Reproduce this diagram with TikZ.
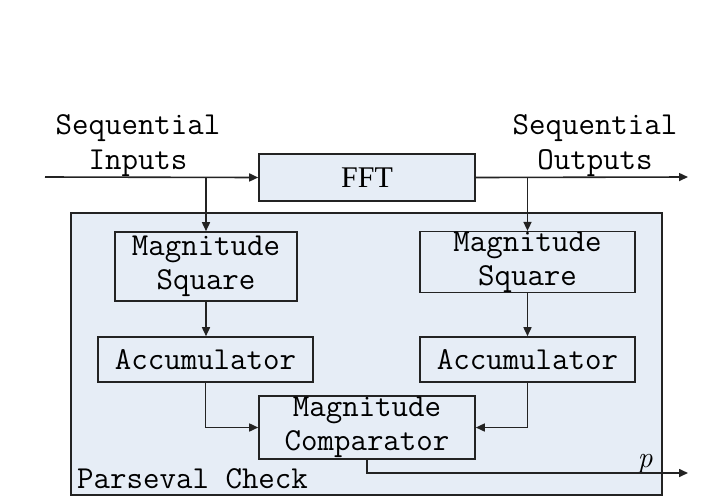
\documentclass[tikz,border=0pt]{standalone}
\usepackage{fontspec}
\usepackage{xcolor}
\usepackage{tikz}
\usetikzlibrary{arrows.meta}

\newfontfamily\fftfont{Liberation Serif}
\definecolor{boxfill}{RGB}{230,237,246}
\definecolor{linegray}{RGB}{35,35,35}

\begin{document}
\begin{tikzpicture}[x=1pt,y=-1pt,
    blk/.style={draw=linegray,line width=1.6pt,fill=boxfill,inner sep=0pt,align=center,
        font={\ttfamily\fontsize{32}{34}\selectfont}},
    lbl/.style={inner sep=0pt,align=center,font={\ttfamily\fontsize{32}{35}\selectfont}},
    arr/.style={draw=linegray,line width=1.6pt,-{Triangle[length=9pt,width=8pt]}}]
\useasboundingbox (0,0) rectangle (717,496);

% Parseval check region
\node[blk,minimum width=591,minimum height=282] (pc) at (366.5,354) {};
\node[lbl,anchor=base west] (pclabel) at (77,488) {Parseval Check};

% FFT and the blocks inside the check
\node[blk,minimum width=216,minimum height=47,font={\fftfont\fontsize{30}{32}\selectfont}] (fft) at (367,177.5) {FFT};
\node[blk,minimum width=182,minimum height=69] (msl) at (206,266.5) {Magnitude\\Square};
\node[blk,minimum width=215,minimum height=60] (msr) at (527.5,262) {Magnitude\\Square};
\node[blk,minimum width=215,minimum height=45] (accl) at (205.5,359.5) {Accumulator};
\node[blk,minimum width=215,minimum height=45] (accr) at (527.5,359.5) {Accumulator};
\node[blk,minimum width=216,minimum height=63] (cmp) at (367,427.5) {Magnitude\\Comparator};

% Inputs and outputs
\coordinate (in) at (45,177);
\coordinate (out) at (688,177);
\coordinate (pout) at (688,473);
\node[lbl,anchor=south] (inlabel) at (138,177) {Sequential\\Inputs};
\node[lbl,anchor=south] (outlabel) at (595,177) {Sequential\\Outputs};
\node[inner sep=0pt,anchor=base,font={\rmfamily\itshape\fontsize{30}{32}\selectfont}] (plabel) at (645,467) {p};

% Connectors
\draw[arr] (in) -- (fft.west);
\draw[arr] (fft.east) -- (out);
\draw[arr] (msl.north |- fft.west) -- (msl.north);
\draw[arr] (msr.north |- fft.east) -- (msr.north);
\draw[arr] (msl.south) -- (msl.south |- accl.north);
\draw[arr] (msr.south) -- (accr.north);
\draw[arr] (accl.south) |- (cmp.west);
\draw[arr] (accr.south) |- (cmp.east);
\draw[arr] (cmp.south) |- (pout);
\end{tikzpicture}
\end{document}
